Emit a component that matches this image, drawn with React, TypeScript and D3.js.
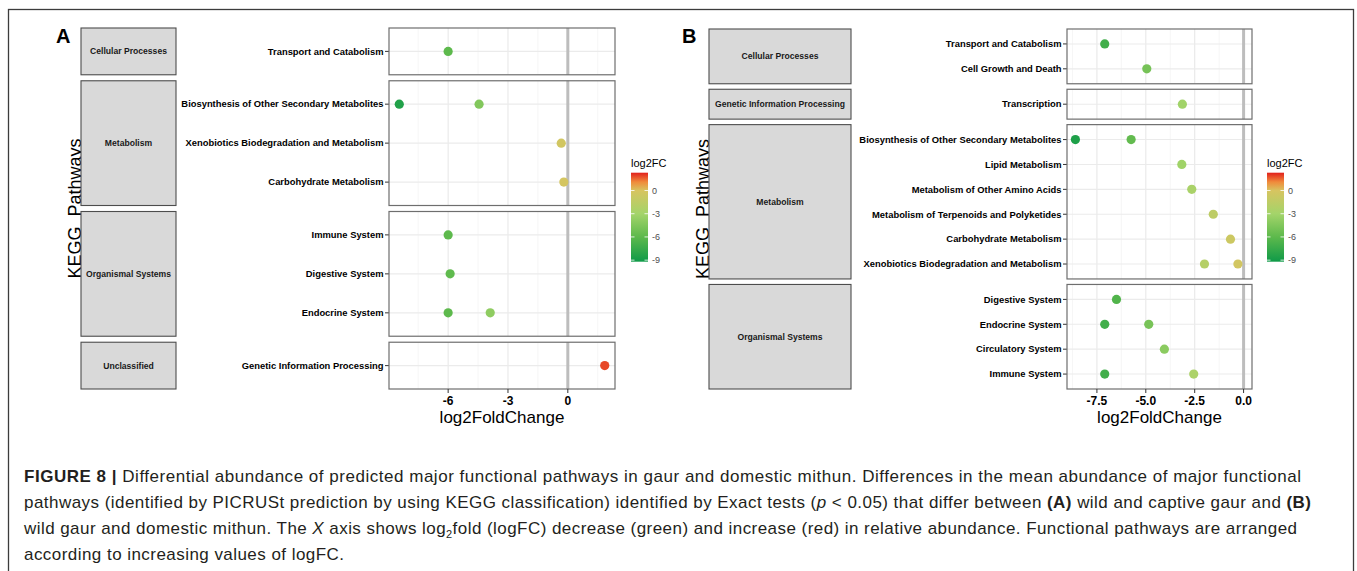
import * as d3 from "d3";

// ---- panel A: wild vs captive gaur ----
const pathwaysA = [
  "Transport and Catabolism",
  "Biosynthesis of Other Secondary Metabolites",
  "Xenobiotics Biodegradation and Metabolism",
  "Carbohydrate Metabolism",
  "Immune System",
  "Digestive System",
  "Endocrine System",
  "Genetic Information Processing",
];
const groupsA = [
  "Cellular Processes",
  "Metabolism",
  "Metabolism",
  "Metabolism",
  "Organismal Systems",
  "Organismal Systems",
  "Organismal Systems",
  "Unclassified",
];
const pointPathA = [
  "Transport and Catabolism",
  "Biosynthesis of Other Secondary Metabolites",
  "Biosynthesis of Other Secondary Metabolites",
  "Xenobiotics Biodegradation and Metabolism",
  "Carbohydrate Metabolism",
  "Immune System",
  "Digestive System",
  "Endocrine System",
  "Endocrine System",
  "Genetic Information Processing",
];
const pointFcA = [-6.0, -8.45, -4.45, -0.33, -0.2, -6.0, -5.9, -6.0, -3.89, 1.85];
const ticksA = [-6, -3, 0];

// ---- panel B: wild gaur vs domestic mithun ----
const pathwaysB = [
  "Transport and Catabolism",
  "Cell Growth and Death",
  "Transcription",
  "Biosynthesis of Other Secondary Metabolites",
  "Lipid Metabolism",
  "Metabolism of Other Amino Acids",
  "Metabolism of Terpenoids and Polyketides",
  "Carbohydrate Metabolism",
  "Xenobiotics Biodegradation and Metabolism",
  "Digestive System",
  "Endocrine System",
  "Circulatory System",
  "Immune System",
];
const groupsB = [
  "Cellular Processes",
  "Cellular Processes",
  "Genetic Information Processing",
  "Metabolism",
  "Metabolism",
  "Metabolism",
  "Metabolism",
  "Metabolism",
  "Metabolism",
  "Organismal Systems",
  "Organismal Systems",
  "Organismal Systems",
  "Organismal Systems",
];
const pointPathB = [
  "Transport and Catabolism",
  "Cell Growth and Death",
  "Transcription",
  "Biosynthesis of Other Secondary Metabolites",
  "Biosynthesis of Other Secondary Metabolites",
  "Lipid Metabolism",
  "Metabolism of Other Amino Acids",
  "Metabolism of Terpenoids and Polyketides",
  "Carbohydrate Metabolism",
  "Xenobiotics Biodegradation and Metabolism",
  "Xenobiotics Biodegradation and Metabolism",
  "Digestive System",
  "Endocrine System",
  "Endocrine System",
  "Circulatory System",
  "Immune System",
  "Immune System",
];
const pointFcB = [-7.1, -4.95, -3.13, -8.6, -5.75, -3.16, -2.65, -1.55, -0.67, -2.0, -0.29, -6.5, -7.1, -4.85, -4.05, -7.1, -2.55];
const ticksB = [-7.5, -5, -2.5, 0];

// colour scale (shared legend)
const colorStops = [-9.2, -6, -3, 0, 1.1, 2.3];
const colorRange = ["#0f9a48", "#5db94c", "#a4d46a", "#d7c460", "#f08b3b", "#e2201c"];
const legendTicks = [0, -3, -6, -9];

const fcColor = d3
  .scaleLinear<string>()
  .domain(colorStops)
  .range(colorRange)
  .interpolate(d3.interpolateRgb)
  .clamp(true);

type PanelCfg = {
  id: string;
  letter: string;
  letterX: number;
  pathways: string[];
  groups: string[];
  ptPath: string[];
  ptFc: number[];
  ticks: number[];
  fmt: (v: number) => string;
  stripX: number;
  stripW: number;
  plotX: number;
  plotW: number;
  top: number;
  bottom: number;
  gap: number;
  titleX: number;
  legendX: number;
};

const cfgA: PanelCfg = {
  id: "a",
  letter: "A",
  letterX: 56,
  pathways: pathwaysA,
  groups: groupsA,
  ptPath: pointPathA,
  ptFc: pointFcA,
  ticks: ticksA,
  fmt: (v) => d3.format("d")(v).replace("−", "-"),
  stripX: 81,
  stripW: 95,
  plotX: 389,
  plotW: 226,
  top: 28,
  bottom: 389,
  gap: 6,
  titleX: 75,
  legendX: 631,
};

const cfgB: PanelCfg = {
  id: "b",
  letter: "B",
  letterX: 682,
  pathways: pathwaysB,
  groups: groupsB,
  ptPath: pointPathB,
  ptFc: pointFcB,
  ticks: ticksB,
  fmt: (v) => d3.format(".1f")(v).replace("−", "-"),
  stripX: 709,
  stripW: 142,
  plotX: 1067,
  plotW: 185,
  top: 29,
  bottom: 389,
  gap: 5.5,
  titleX: 703,
  legendX: 1267,
};

function Legend({ x, id }: { x: number; id: string }) {
  const top = 172.7;
  const bottom = 261.7;
  const [lo, hi] = [colorStops[0], colorStops[colorStops.length - 1]];
  const y = d3.scaleLinear().domain([hi, lo]).range([top, bottom]);
  const w = 17;
  // gradient stops must run top (high) -> bottom (low)
  const order = d3.range(colorStops.length).reverse();
  return (
    <g>
      <defs>
        <linearGradient id={"grad" + id} x1="0" y1="0" x2="0" y2="1">
          {order.map((i) => (
            <stop key={i} offset={(hi - colorStops[i]) / (hi - lo)} stopColor={colorRange[i]} />
          ))}
        </linearGradient>
      </defs>
      <text x={x} y={167} fontSize={11} fill="#000">log2FC</text>
      <rect x={x} y={top} width={w} height={bottom - top} fill={`url(#grad${id})`} />
      {legendTicks.map((t) => (
        <g key={t}>
          <line x1={x} x2={x + 3.5} y1={y(t)} y2={y(t)} stroke="#fff" strokeWidth={0.8} />
          <line x1={x + w - 3.5} x2={x + w} y1={y(t)} y2={y(t)} stroke="#fff" strokeWidth={0.8} />
          <text x={x + w + 4} y={y(t)} dy="0.35em" fontSize={9} fill="#4d4d4d">
            {t === 0 ? "0" : "-" + Math.abs(t)}
          </text>
        </g>
      ))}
    </g>
  );
}

function FacetPlot({ p }: { p: PanelCfg }) {
  const names = Array.from(new Set(p.groups));
  const rows = names.map((g) => p.pathways.filter((_, i) => p.groups[i] === g));
  const units = rows.map((r) => r.length - 1 + 1.2);
  const unitPx = (p.bottom - p.top - p.gap * (rows.length - 1)) / d3.sum(units);

  let cursor = p.top;
  const boxes = rows.map((r, k) => {
    const h = units[k] * unitPx;
    const y0 = cursor;
    cursor += h + p.gap;
    return {
      name: names[k],
      rows: r,
      y0,
      h,
      y: d3.scalePoint<string>().domain(r).range([y0, y0 + h]).padding(0.6),
    };
  });

  const [lo, hi] = d3.extent([...p.ptFc, 0]) as [number, number];
  const pad = (hi - lo) * 0.05;
  const x = d3.scaleLinear().domain([lo - pad, hi + pad]).range([p.plotX, p.plotX + p.plotW]);
  const [d0, d1] = x.domain();
  const step = p.ticks[1] - p.ticks[0];
  const minor = d3
    .range(p.ticks[0] - step / 2 - step * 3, d1, step)
    .filter((v) => v > d0 && v < d1);

  const rowY = (path: string) => {
    const b = boxes.find((bx) => bx.rows.includes(path))!;
    return b.y(path)!;
  };
  const mid = (p.top + p.bottom) / 2;

  return (
    <g>
      <text x={p.letterX} y={42.7} fontSize={20} fontWeight="bold">{p.letter}</text>
      <text
        transform={`translate(${p.titleX + 6},${mid}) rotate(-90)`}
        textAnchor="middle"
        fontSize={18}
      >
        KEGG_Pathways
      </text>
      {boxes.map((b) => (
        <g key={b.name}>
          <rect x={p.stripX} y={b.y0} width={p.stripW} height={b.h} fill="#d9d9d9" stroke="#4d4d4d" strokeWidth={1.1} />
          <text
            x={p.stripX + p.stripW / 2}
            y={b.y0 + b.h / 2}
            dy="0.35em"
            textAnchor="middle"
            fontSize={8.6}
            fontWeight="bold"
            fill="#1a1a1a"
          >
            {b.name}
          </text>
          <rect x={p.plotX} y={b.y0} width={p.plotW} height={b.h} fill="#fff" />
          {minor.map((v) => (
            <line key={"m" + v} x1={x(v)} x2={x(v)} y1={b.y0} y2={b.y0 + b.h} stroke="#f2f2f2" strokeWidth={0.7} />
          ))}
          {p.ticks.map((v) => (
            <line key={"t" + v} x1={x(v)} x2={x(v)} y1={b.y0} y2={b.y0 + b.h} stroke="#e8e8e8" strokeWidth={1.1} />
          ))}
          {b.rows.map((r) => (
            <line key={"r" + r} x1={p.plotX} x2={p.plotX + p.plotW} y1={b.y(r)} y2={b.y(r)} stroke="#ebebeb" strokeWidth={1.1} />
          ))}
          <line x1={x(0)} x2={x(0)} y1={b.y0} y2={b.y0 + b.h} stroke="#bdbdbd" strokeWidth={3} />
          {b.rows.map((r) => (
            <g key={"l" + r}>
              <line x1={p.plotX - 4} x2={p.plotX} y1={b.y(r)} y2={b.y(r)} stroke="#333" strokeWidth={1} />
              <text x={p.plotX - 5.5} y={b.y(r)} dy="0.35em" textAnchor="end" fontSize={9.4} fontWeight="bold" fill="#000">
                {r}
              </text>
            </g>
          ))}
        </g>
      ))}
      {p.ptPath.map((path, i) => (
        <circle key={i} cx={x(p.ptFc[i])} cy={rowY(path)} r={4.6} fill={fcColor(p.ptFc[i])} />
      ))}
      {boxes.map((b) => (
        <rect key={"border" + b.name} x={p.plotX} y={b.y0} width={p.plotW} height={b.h} fill="none" stroke="#6e6e6e" strokeWidth={1.2} />
      ))}
      {p.ticks.map((v) => (
        <g key={"xt" + v}>
          <line x1={x(v)} x2={x(v)} y1={p.bottom} y2={p.bottom + 4} stroke="#333" />
          <text x={x(v)} y={404.5} textAnchor="middle" fontSize={12} fontWeight="bold" fill="#000">
            {p.fmt(v)}
          </text>
        </g>
      ))}
      <text x={p.plotX + p.plotW / 2} y={422.5} textAnchor="middle" fontSize={17} fill="#000">
        log2FoldChange
      </text>
      <Legend x={p.legendX} id={p.id} />
    </g>
  );
}

export default function App() {
  const cap = { fontSize: 17, fill: "#231f20" };
  return (
    <svg
      width={1357}
      height={571}
      style={{ position: "absolute", left: 0, top: 0, fontFamily: "'Liberation Sans', Arial, sans-serif" }}
    >
      <rect x={0} y={0} width={1357} height={571} fill="#fff" />
      <rect x={8.5} y={9.5} width={1345} height={600} fill="none" stroke="#3c3c3c" strokeWidth={1.3} />
      <FacetPlot p={cfgA} />
      <FacetPlot p={cfgB} />
      <g {...cap}>
        <text x={24} y={482} textLength={1277}>
          <tspan fontWeight="bold">FIGURE 8 |</tspan> Differential abundance of predicted major functional pathways in gaur and domestic mithun. Differences in the mean abundance of major functional
        </text>
        <text x={24} y={508} textLength={1287}>
          pathways (identified by PICRUSt prediction by using KEGG classification) identified by Exact tests (<tspan fontStyle="italic">p</tspan> {"<"} 0.05) that differ between <tspan fontWeight="bold">(A)</tspan> wild and captive gaur and <tspan fontWeight="bold">(B)</tspan>
        </text>
        <text x={24} y={534} textLength={1273}>
          wild gaur and domestic mithun. The <tspan fontStyle="italic">X</tspan> axis shows log<tspan fontSize={11} dy={4}>2</tspan><tspan dy={-4}>fold (logFC) decrease (green) and increase (red) in relative abundance. Functional pathways are arranged</tspan>
        </text>
        <text x={24} y={560} textLength={320}>
          according to increasing values of logFC.
        </text>
      </g>
    </svg>
  );
}
